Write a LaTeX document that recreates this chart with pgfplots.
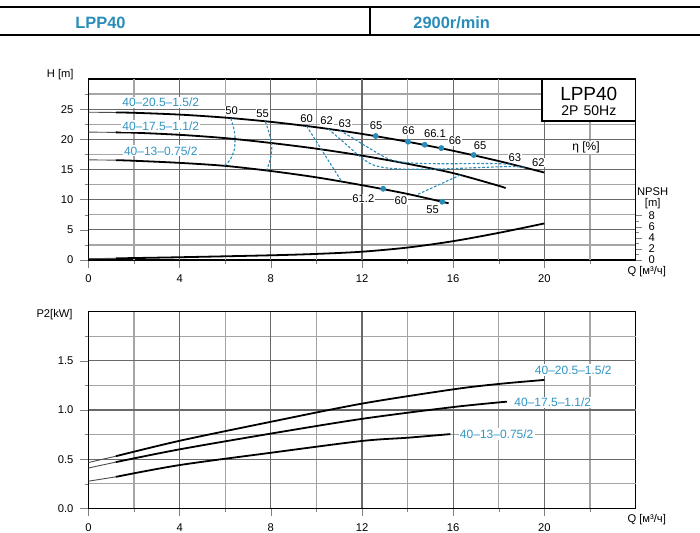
\documentclass[border=0pt]{standalone}
\usepackage{fontspec}
\setmainfont{Liberation Sans}
\usepackage{pgfplots}
\pgfplotsset{compat=1.18}
\definecolor{pblue}{RGB}{42,140,184}
\definecolor{lblue}{RGB}{48,150,196}
\definecolor{gmaj}{RGB}{105,105,105}
\definecolor{gmin}{RGB}{165,165,165}
\pgfplotsset{
  base/.style={
    scale only axis, width=273.5pt, xmin=0, xmax=24,
    xtick={0,4,8,12,16,20}, minor xtick={2,6,10,14,18,22},
    tick align=outside, xtick pos=left, ytick pos=left,
    major tick length=4pt, minor tick length=2pt,
    axis line style={line width=0.6pt},
    ticklabel style={font=\fontsize{5.6}{6}\selectfont},
    /pgf/number format/assume math mode=true,
    clip=false,
  },
}
\tikzset{
  majg/.style={draw=gmaj,line width=0.6pt},
  ming/.style={draw=gmin,line width=0.6pt},
  hc/.style={black,line width=0.9pt,smooth},
  hs/.style={black!70,line width=0.45pt},
  eff/.style={pblue,line width=0.55pt,dash pattern=on 1.3pt off 0.9pt,smooth},
  dot/.style={only marks,mark=*,mark size=1.25pt,pblue},
  el/.style={font=\fontsize{5.6}{6}\selectfont,fill=white,inner sep=0.4pt},
  cl/.style={font=\fontsize{6}{7}\selectfont,text=lblue,fill=white,inner sep=0.6pt},
}
\begin{document}
\begin{tikzpicture}
\path[use as bounding box] (0,0) rectangle (350pt,266pt);
% header
\draw[line width=1pt] (0,262.5pt) -- (350pt,262.5pt);
\draw[line width=1pt] (0,248.5pt) -- (350pt,248.5pt);
\draw[line width=0.7pt] (185pt,262.5pt) -- (185pt,248.5pt);
\node[anchor=west,text=pblue,font=\fontsize{8.2}{9}\selectfont\bfseries,inner sep=0] at (37.5pt,254.75pt) {LPP40};
\node[anchor=west,text=pblue,font=\fontsize{8.2}{9}\selectfont\bfseries,inner sep=0] at (206.5pt,254.75pt) {2900r/min};

% ---------------- H-Q chart ----------------
\begin{axis}[base, name=top, at={(44.25pt,136pt)}, anchor=south west,
  height=90.5pt, ymin=0, ymax=30,
  ytick={0,5,10,15,20,25}, minor ytick={2.5,7.5,12.5,17.5,22.5,27.5}]
% grid
\pgfplotsinvokeforeach{2,6,10,14,18,22}{\draw[ming] (axis cs:#1,0) -- (axis cs:#1,30);}
\pgfplotsinvokeforeach{2.5,7.5,12.5,17.5,22.5,27.5}{\draw[ming] (axis cs:0,#1) -- (axis cs:24,#1);}
\pgfplotsinvokeforeach{4,8,12,16,20}{\draw[majg] (axis cs:#1,0) -- (axis cs:#1,30);}
\pgfplotsinvokeforeach{5,10,15,20,25}{\draw[majg] (axis cs:0,#1) -- (axis cs:24,#1);}
% curve A 40-20.5-1.5/2
\addplot[hs] coordinates {(0,24.5) (1.2,24.45)};
\addplot[hc] coordinates {(1.2,24.45) (2,24.4) (4,24.1) (6,23.6) (8,22.9) (10,22.0) (12,20.9) (14,19.6) (16,18.1) (18,16.4) (20,14.5)};
% curve B 40-17.5-1.1/2
\addplot[hs] coordinates {(0,21.2) (1.2,21.15)};
\addplot[hc] coordinates {(1.2,21.15) (2,21.1) (4,20.75) (6,20.2) (8,19.4) (10,18.45) (12,17.3) (14,15.95) (16,14.4) (18,12.3) (18.3,11.9)};
% curve C 40-13-0.75/2
\addplot[hs] coordinates {(0,16.6) (1.2,16.55)};
\addplot[hc] coordinates {(1.2,16.55) (2,16.45) (4,16.1) (6,15.6) (8,14.75) (10,13.7) (12,12.4) (14,10.95) (15.8,9.4)};
% efficiency contours
\addplot[eff] coordinates {(6.24,23.5) (6.39,21.55) (6.43,19.9) (6.39,18.2) (6.21,16.6) (5.95,15.6)};
\addplot[eff] coordinates {(7.76,22.95) (7.93,21.0) (8.04,19.06) (8.0,17.1) (7.82,14.85)};
\addplot[eff,smooth=false] coordinates {(9.57,22.2) (11.1,13.05)};
\addplot[eff] coordinates {(10.52,21.73) (11.2,19.5) (11.9,17.2) (12.4,15.9) (13.0,15.3) (14.0,15.05) (15.5,15.1) (17.0,15.3) (18.5,15.5) (19.2,15.35)};
\addplot[eff] coordinates {(11.03,21.46) (11.6,20.2) (12.2,18.8) (13.2,16.7) (14.1,16.1) (15.5,15.95) (17.6,16.0) (18.6,15.85)};
\addplot[eff,smooth=false] coordinates {(14.46,10.9) (16.35,14.15)};
% duty points
\addplot[dot] coordinates {(12.6,20.55) (14.02,19.6) (14.75,19.1) (15.48,18.55) (16.9,17.4)};
\addplot[dot] coordinates {(12.93,11.8) (15.52,9.66)};
% efficiency labels
\node[el] at (axis cs:6.28,24.75) {50};
\node[el] at (axis cs:7.64,24.2) {55};
\node[el] at (axis cs:9.57,23.5) {60};
\node[el] at (axis cs:10.45,23.1) {62};
\node[el] at (axis cs:11.25,22.66) {63};
\node[el] at (axis cs:12.62,22.2) {65};
\node[el] at (axis cs:14.03,21.43) {66};
\node[el] at (axis cs:15.2,20.9) {66.1};
\node[el] at (axis cs:16.08,19.72) {66};
\node[el] at (axis cs:17.18,18.9) {65};
\node[el] at (axis cs:18.71,17.02) {63};
\node[el] at (axis cs:19.74,16.2) {62};
\node[el] at (axis cs:12.06,10.23) {61.2};
\node[el] at (axis cs:13.71,9.83) {60};
\node[el] at (axis cs:15.1,8.4) {55};
% curve labels
\node[cl] at (axis cs:3.17,26.14) {40–20.5–1.5/2};
\node[cl] at (axis cs:3.17,22.2) {40–17.5–1.1/2};
\node[cl] at (axis cs:3.17,18.1) {40–13–0.75/2};
% title box
\draw[fill=white,line width=0.6pt] (axis cs:19.9,23.04) rectangle (axis cs:24,30);
\node[font=\fontsize{9.5}{10}\selectfont] at (axis cs:21.95,27.6) {LPP40};
\node[font=\fontsize{7}{8}\selectfont] at (axis cs:21.95,24.75) {2P\hspace{2.6pt}50Hz};
\node[fill=white,inner sep=0.6pt,font=\fontsize{6}{7}\selectfont] at (axis cs:21.83,18.68) {η [\%]};
\end{axis}

% NPSH axis
\begin{axis}[scale only axis, width=273.5pt, height=90.5pt, at={(44.25pt,136pt)}, anchor=south west,
  xmin=0, xmax=24, ymin=0, ymax=32.67,
  axis x line=none, axis y line*=right,
  ytick={0,2,4,6,8}, minor ytick={1,3,5,7},
  tick align=outside, major tick length=3pt, minor tick length=1.5pt,
  axis line style={line width=0.6pt},
  ticklabel style={font=\fontsize{5.6}{6}\selectfont},
  /pgf/number format/assume math mode=true, clip=false]
\addplot[black,line width=0.9pt,smooth] coordinates {(1.2,0.3) (4,0.5) (8,0.85) (10,1.1) (12,1.5) (14,2.25) (16,3.4) (18,4.9) (20,6.6)};
\addplot[black!70,line width=0.45pt] coordinates {(0,0.25) (1.2,0.3)};
\end{axis}

\node[font=\fontsize{5.6}{6}\selectfont,anchor=east,inner sep=0] at (37pt,228.5pt) {H [m]};
\node[font=\fontsize{5.6}{6}\selectfont] at (326.35pt,170.15pt) {NPSH};
\node[font=\fontsize{5.6}{6}\selectfont] at (326.35pt,164.35pt) {[m]};
\node[font=\fontsize{5.6}{6}\selectfont] at (323.35pt,130pt) {Q [м³/ч]};

% ---------------- P2-Q chart ----------------
\begin{axis}[base, name=bot, at={(44.25pt,11.85pt)}, anchor=south west,
  height=98.3pt, ymin=0, ymax=2,
  ytick={0,0.5,1,1.5}, minor ytick={0.25,0.75,1.25,1.75},
  yticklabel style={/pgf/number format/.cd,fixed,fixed zerofill,precision=1}]
\pgfplotsinvokeforeach{2,6,10,14,18,22}{\draw[ming] (axis cs:#1,0) -- (axis cs:#1,2);}
\pgfplotsinvokeforeach{0.25,0.75,1.25,1.75}{\draw[ming] (axis cs:0,#1) -- (axis cs:24,#1);}
\pgfplotsinvokeforeach{4,8,12,16,20}{\draw[majg] (axis cs:#1,0) -- (axis cs:#1,2);}
\pgfplotsinvokeforeach{0.5,1,1.5}{\draw[majg] (axis cs:0,#1) -- (axis cs:24,#1);}
\addplot[hs] coordinates {(0,0.466) (1.2,0.53)};
\addplot[hc] coordinates {(1.2,0.53) (4,0.687) (8,0.88) (12,1.065) (16,1.21) (18,1.265) (20,1.306)};
\addplot[hs] coordinates {(0,0.41) (1.2,0.47)};
\addplot[hc] coordinates {(1.2,0.47) (4,0.6) (8,0.76) (12,0.91) (16,1.03) (18.36,1.085)};
\addplot[hs] coordinates {(0,0.276) (1.2,0.32)};
\addplot[hc] coordinates {(1.2,0.32) (4,0.44) (8,0.565) (12,0.685) (14,0.718) (15.88,0.755)};
\node[cl] at (axis cs:21.27,1.407) {40–20.5–1.5/2};
\node[cl] at (axis cs:20.37,1.078) {40–17.5–1.1/2};
\node[cl] at (axis cs:17.91,0.756) {40–13–0.75/2};
\end{axis}
\node[font=\fontsize{5.6}{6}\selectfont,anchor=east,inner sep=0] at (36.5pt,108.85pt) {P2[kW]};
\node[font=\fontsize{5.6}{6}\selectfont] at (323.35pt,6pt) {Q [м³/ч]};
\end{tikzpicture}
\end{document}
